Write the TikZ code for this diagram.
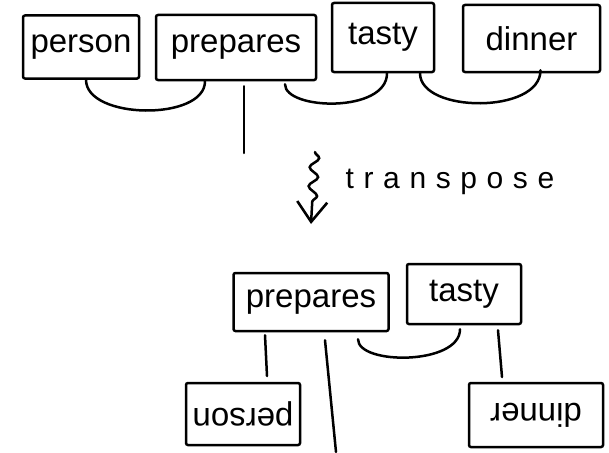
\documentclass[tikz,border=0pt]{standalone}
\usepackage{fontspec}
\setmainfont{Liberation Sans}
\newfontfamily\wordfont{Liberation Sans}
\newfontfamily\spacedfont[LetterSpace=32]{Liberation Sans}
\usetikzlibrary{calc,arrows.meta,decorations.pathmorphing}

\tikzset{
  wordbox/.style={draw, line width=2.5pt, rounded corners=2pt, inner sep=0pt,
    font=\wordfont\fontsize{33}{35}\selectfont},
  link/.style={line width=2.5pt, line cap=round},
}

\begin{document}
\begin{tikzpicture}[x=1pt, y=-1pt]
  \useasboundingbox (0,0) rectangle (609,452);

  % sentence before the transposition
  \node[wordbox, minimum width=116pt, minimum height=63pt] (person)   at (81,47)    {person};
  \node[wordbox, minimum width=160pt, minimum height=65pt] (prepares) at (236,47.5) {prepares};
  \node[wordbox, minimum width=102pt, minimum height=69pt] (tasty)    at (383,37.5) {tasty};
  \node[wordbox, minimum width=137pt, minimum height=67pt] (dinner)   at (531.5,38.5) {dinner};

  \coordinate (root1) at (244,153);

  \draw[link] ($(person.south)+(5,0)$) .. controls +(0,40) and +(0,40) .. ($(prepares.south)+(-31,0)$);
  \draw[link] ($(prepares.south)+(8,5)$) -- (root1);
  \draw[link] ($(prepares.south)+(49,3)$) .. controls +(0,26) and +(0,40) .. ($(tasty.south)+(4,0)$);
  \draw[link] ($(tasty.south)+(37,0)$) .. controls +(0,40) and +(0,44) .. ($(dinner.south)+(9,-3)$);

  % the transposition step
  \coordinate (sqtop) at (315,152);
  \coordinate (sqtip) at (311,224);
  \draw[link, decorate, decoration={snake, amplitude=4.5pt, segment length=19pt, post length=18pt},
        -{Straight Barb[length=20pt, width=30pt, line width=2.6pt]}] (sqtop) -- (sqtip);
  \node[anchor=base, font=\spacedfont\fontsize{30}{32}\selectfont] (label) at (450,188) {transpose};

  % sentence after the transposition
  \node[wordbox, minimum width=155pt, minimum height=58pt] (prepares2) at (311,302) {prepares};
  \node[wordbox, minimum width=114pt, minimum height=60pt] (tasty2)    at (464,294) {tasty};
  \node[wordbox, minimum width=114pt, minimum height=62pt, rotate=180] (person2) at (243,414) {person};
  \node[wordbox, minimum width=134pt, minimum height=64pt, rotate=180] (dinner2) at (536,415) {dinner};

  \coordinate (root2) at (336,452);

  \draw[link] ($(prepares2.south)+(-46,3)$) -- ($(person2.center)+(24,-38)$);
  \draw[link] ($(prepares2.south)+(14,8)$) -- (root2);
  \draw[link] ($(prepares2.south)+(47,7)$) .. controls +(0,26) and +(0,36) .. ($(tasty2.south)+(-4,4)$);
  \draw[link] ($(tasty2.south)+(34,5)$) -- ($(dinner2.center)+(-34,-38)$);
\end{tikzpicture}
\end{document}
